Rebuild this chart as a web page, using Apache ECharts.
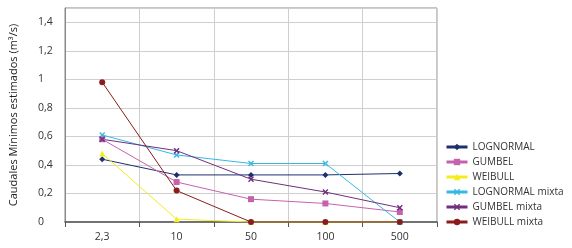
<!DOCTYPE html>
<html>
<head>
<meta charset="utf-8">
<script src="https://cdn.jsdelivr.net/npm/echarts@6/dist/echarts.min.js"></script>
<style>
  html, body { margin: 0; padding: 0; background: #fff; }
  #chart { width: 572px; height: 248px; }
</style>
</head>
<body>
<div id="chart"></div>
<script>
var categories = ['2,3', '10', '50', '100', '500'];
var yTicks = [0, 0.2, 0.4, 0.6, 0.8, 1, 1.2, 1.4];

var lognormal      = [0.44, 0.33, 0.33, 0.33, 0.34];
var gumbel         = [0.58, 0.28, 0.16, 0.13, 0.07];
var weibull        = [0.48, 0.02, 0.00, 0.00, 0.00];
var lognormalMixta = [0.61, 0.47, 0.41, 0.41, 0.00];
var gumbelMixta    = [0.58, 0.50, 0.30, 0.21, 0.10];
var weibullMixta   = [0.98, 0.22, 0.00, 0.00, 0.00];

var font = 'Open Sans';
var cross = 'path://M0,0L2,2L4,0L5,1L3,3L5,5L4,6L2,4L0,6L-1,5L1,3L-1,1Z';

function line(name, data, color, symbol, size) {
  return {
    name: name,
    type: 'line',
    data: data,
    symbol: symbol,
    symbolSize: size,
    showSymbol: true,
    itemStyle: { color: color },
    lineStyle: { color: color, width: 1 },
    emphasis: { disabled: true },
    animation: false
  };
}

var chart = echarts.init(document.getElementById('chart'));
chart.setOption({
  animation: false,
  grid: {
    left: 62, right: 135, top: 8, bottom: 26,
    show: true, borderColor: '#8a8a8a', borderWidth: 1
  },
  legend: {
    orient: 'vertical',
    left: 440, top: 137,
    itemWidth: 21, itemHeight: 8, itemGap: 5,
    lineStyle: { width: 3 },
    textStyle: { fontFamily: font, fontSize: 10, color: '#333' },
    data: ['LOGNORMAL', 'GUMBEL', 'WEIBULL', 'LOGNORMAL mixta', 'GUMBEL mixta', 'WEIBULL mixta']
  },
  xAxis: {
    type: 'category',
    data: categories,
    boundaryGap: true,
    axisLine: { lineStyle: { color: '#555', width: 1.5 } },
    axisTick: { show: true, length: 5, lineStyle: { color: '#555' } },
    axisLabel: { fontFamily: font, fontSize: 10.5, color: '#333', margin: 10 },
    splitLine: { show: true, lineStyle: { color: '#cfcfcf' } }
  },
  yAxis: {
    type: 'value',
    min: 0, max: 1.5, interval: 0.2,
    name: 'Caudales Mínimos estimados (m³/s)',
    nameLocation: 'middle',
    nameGap: 46,
    nameTextStyle: { fontFamily: font, fontSize: 11, color: '#222' },
    axisLine: { show: true, lineStyle: { color: '#8a8a8a' } },
    axisTick: { show: false },
    axisLabel: {
      fontFamily: font, fontSize: 10.5, color: '#333', align: 'left', margin: 27,
      showMaxLabel: false,
      formatter: function (v) {
        var t = yTicks.find(function (k) { return Math.abs(k - v) < 1e-6; });
        return t === undefined ? '' : String(t).replace('.', ',');
      }
    },
    splitLine: { lineStyle: { color: '#cfcfcf' } }
  },
  series: [
    line('LOGNORMAL', lognormal, '#1f2f6e', 'diamond', 6),
    line('GUMBEL', gumbel, '#c462ad', 'rect', 6),
    line('WEIBULL', weibull, '#f2ee1e', 'triangle', 6),
    line('LOGNORMAL mixta', lognormalMixta, '#35b9e3', cross, 6),
    line('GUMBEL mixta', gumbelMixta, '#6f2f7f', cross, 6),
    line('WEIBULL mixta', weibullMixta, '#8a1c1c', 'circle', 6)
  ]
});
</script>
</body>
</html>
